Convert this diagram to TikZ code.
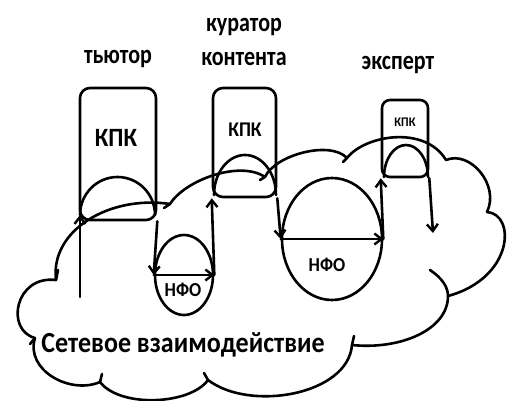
\documentclass[tikz,border=0pt]{standalone}
\usepackage{fontspec}
\setmainfont{Carlito}
\usetikzlibrary{arrows.meta,shapes.geometric}
\tikzset{
  line/.style={line width=2.6pt, line cap=round, line join=round},
  arr/.style={line, -{Straight Barb[length=7pt,width=11pt,line width=2.4pt]}},
  box/.style={line, draw, rounded corners=10pt, inner sep=0pt},
  oval/.style={line, draw, ellipse, inner sep=0pt},
  lbl/.style={font=\bfseries, anchor=base, inner sep=0pt},
}
% labels are set slightly taller than the font's own proportions
\newcommand{\tall}[2]{\scalebox{1}[#1]{#2}}
\begin{document}
\begin{tikzpicture}[x=1pt,y=-1pt]
\useasboundingbox (0,0) rectangle (507,401);

% role captions
\node[lbl, font=\bfseries\fontsize{22}{24}\selectfont] (t1) at (118,64) {\tall{1.22}{тьютор}};
\node[lbl, font=\bfseries\fontsize{22}{24}\selectfont] (t2a) at (244,32) {\tall{1.22}{куратор}};
\node[lbl, font=\bfseries\fontsize{22}{24}\selectfont] (t2b) at (244,66) {\tall{1.22}{контента}};
\node[lbl, font=\bfseries\fontsize{22}{24}\selectfont] (t3) at (398,70) {\tall{1.22}{эксперт}};

% КПК boxes
\node[box, minimum width=76pt, minimum height=132pt] (b1) at (118,154) {};
\node[box, minimum width=63pt, minimum height=109pt] (b2) at (244.5,142.5) {};
\node[box, rounded corners=8pt, minimum width=46pt, minimum height=77pt] (b3) at (405,138.5) {};
\node[lbl, font=\bfseries\fontsize{24}{26}\selectfont] (k1) at (116,147) {\tall{1.1}{КПК}};
\node[lbl, font=\bfseries\fontsize{19}{22}\selectfont] (k2) at (245,137) {\tall{1.1}{КПК}};
\node[lbl, font=\bfseries\fontsize{12}{14}\selectfont] (k3) at (405,127) {\tall{1.1}{КПК}};

% arches inside the boxes (half ellipses)
\coordinate (a1) at (80,215);
\coordinate (a2) at (214,195);
\coordinate (a3) at (384,177);
\draw[line] (a1) .. controls (80,194) and (96.8,177) .. (117.5,177)
                 .. controls (138.2,177) and (155,194) .. (155,215);
\draw[line] (a2) .. controls (214,172.9) and (227.9,155) .. (245,155)
                 .. controls (262.1,155) and (276,172.9) .. (276,195);
\draw[line] (a3) .. controls (384,159.3) and (393.9,145) .. (406,145)
                 .. controls (418.1,145) and (428,159.3) .. (428,177);

% НФО ovals
\node[oval, minimum width=58pt, minimum height=80pt] (e1) at (184,275) {};
\node[oval, minimum width=100pt, minimum height=122pt] (e2) at (332,239) {};
\node[lbl, font=\bfseries\fontsize{18}{20}\selectfont] (n1) at (183,297) {\tall{1.1}{НФО}};
\node[lbl, font=\bfseries\fontsize{18}{20}\selectfont] (n2) at (327,272) {\tall{1.1}{НФО}};

% cloud
\draw[line]
  (56,280) .. controls (50,230) and (110,195) .. (170,204)
  (170,204) .. controls (185,180) and (240,160) .. (265,177)
  (265,177) .. controls (275,155) and (330,140) .. (347,158)
  (347,158) .. controls (365,135) and (425,125) .. (446,160)
  (446,160) .. controls (470,150) and (500,185) .. (487,212)
  (487,212) .. controls (516,214) and (514,278) .. (448,296)
  (448,296) .. controls (448,330) and (400,350) .. (352,345)
  (352,345) .. controls (348,395) and (250,412) .. (208,380)
  (208,380) .. controls (190,405) and (120,408) .. (100,382)
  (100,382) .. controls (70,395) and (25,370) .. (35,338)
  (35,338) .. controls (5,330) and (15,275) .. (56,280);
% inner strokes at the cusps
\draw[line] (430,270) .. controls (442,278) and (448,287) .. (448,296);
\draw[line] (352,345) -- (354,336);
\draw[line] (208,380) -- (204,373);
\draw[line] (100,382) -- (102,374);
\draw[line] (35,338) -- (30,344);
\draw[line] (56,280) -- (58,270);
\draw[line] (170,204) -- (164,208);
\draw[line] (265,177) -- (260,180);
\draw[line] (347,158) -- (343,162);

% flow arrows
\coordinate (s1) at (80,297);
\coordinate (f3) at (433,233);
\draw[arr] (s1) -- (a1);
\draw[arr] (b1.south east) -- (e1.west);
\draw[arr] (e1.west) -- (e1.east);
\draw[arr] (e1.east) -- (b2.south west);
\draw[arr] (b2.south east) -- (e2.west);
\draw[arr] (e2.west) -- (e2.east);
\draw[arr] (e2.east) -- (b3.south west);
\draw[arr] (b3.south east) -- (f3);

% caption of the cloud
\node[lbl, font=\bfseries\fontsize{26}{28}\selectfont] (net) at (183,353) {\tall{1.12}{Сетевое взаимодействие}};
\end{tikzpicture}
\end{document}
